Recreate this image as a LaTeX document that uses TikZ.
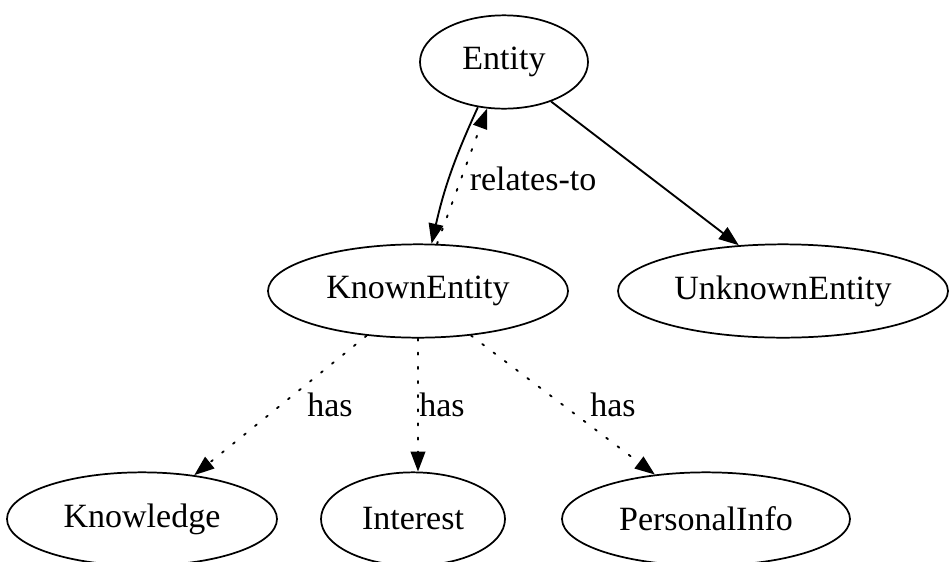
\documentclass[tikz,border=0pt]{standalone}
\usepackage{fontspec}
\setmainfont{Liberation Serif}
\usetikzlibrary{shapes.geometric,arrows.meta}
\begin{document}
\begin{tikzpicture}[x=0.75pt,y=-0.75pt,
  every node/.style={font=\fontsize{25.5pt}{30pt}\selectfont},
  ent/.style={ellipse,draw,line width=1.3pt,inner sep=0pt,minimum height=70pt},
  lbl/.style={inner sep=0pt},
  link/.style={line width=1.4pt,-{Triangle[length=15pt,width=11pt]}},
  weak/.style={link,line cap=round,dash pattern=on 1.6pt off 9pt}]
  \useasboundingbox (0,0) rectangle (949,561);

  % class nodes
  \node[ent,minimum width=126pt]   (entity)   at (504,62)  {Entity};
  \node[ent,minimum width=225pt]   (known)    at (418,291) {KnownEntity};
  \node[ent,minimum width=247.5pt] (unknown)  at (783,291) {UnknownEntity};
  \node[ent,minimum width=202.5pt] (know)     at (142,519) {Knowledge};
  \node[ent,minimum width=138pt]   (interest) at (413,519) {Interest};
  \node[ent,minimum width=216pt]   (personal) at (706,519) {PersonalInfo};

  % subtype edges
  \draw[link] (entity.240) to[bend right=6] (known.74);
  \draw[link] (entity.320) -- (unknown.134);

  % association back to the parent
  \draw[weak] (known.68) -- (entity.250);
  \node[lbl] (rel) at (533,179) {relates-to};

  % attributes of a known entity
  \draw[weak] (known.221) -- (know.40);
  \draw[weak] (known.270) -- (interest.84);
  \draw[weak] (known.320) -- (personal.139);
  \node[lbl] (has1) at (330,405) {has};
  \node[lbl] (has2) at (442,405) {has};
  \node[lbl] (has3) at (613,405) {has};
\end{tikzpicture}
\end{document}
